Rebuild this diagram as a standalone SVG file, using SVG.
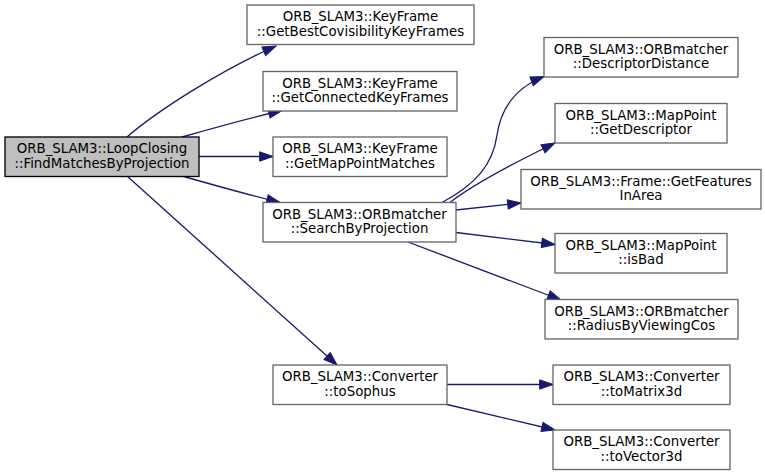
<svg xmlns="http://www.w3.org/2000/svg" width="765" height="476" viewBox="0 0 765 476">
<style>
.n rect{fill:#ffffff;stroke:#666666;stroke-width:1.33}
.m rect{fill:#bfbfbf;stroke:#000000;stroke-width:1.33}
text{font-family:"DejaVu Sans",sans-serif;font-size:13.33px;text-anchor:middle;fill:#000000}
.e path{fill:none;stroke:#191970;stroke-width:1.33;marker-end:url(#ah)}
</style>
<defs>
<marker id="ah" markerUnits="userSpaceOnUse" markerWidth="14" markerHeight="10" refX="13.33" refY="4.67" orient="auto" overflow="visible">
<path d="M0,0 L13.33,4.67 L0,9.33 z" fill="#191970" stroke="#191970" stroke-width="1"/>
</marker>
</defs>
<rect width="765" height="476" fill="#ffffff"/>
<g id="edges" class="e">
<path d="M127,137 C158,110 225,68 276,46"/>
<path d="M182,137 C210,129 245,119 282,110.5"/>
<path d="M199,156.5 L273,156.5"/>
<path d="M182,176 C210,184 245,194 280,202.5"/>
<path d="M127,176 L337,365"/>
<path d="M442,202.5 C475,185 493,165 497,135 C501,108 515,88 544,76.5"/>
<path d="M450,202.5 C475,183 520,160 555,143"/>
<path d="M456,210 L521,203"/>
<path d="M456,232.5 L555,244.5"/>
<path d="M408,242 L561,300"/>
<path d="M447,384.5 L553,384.5"/>
<path d="M447,404.5 L555,430"/>
</g>
<g id="node_main" class="m"><rect x="5" y="137" width="194" height="39.5"/><text x="102" y="153">ORB_SLAM3::LoopClosing</text><text x="102" y="167.7">::FindMatchesByProjection</text></g>
<g id="node_bestcov" class="n"><rect x="247" y="5" width="227" height="39.5"/><text x="360.5" y="21">ORB_SLAM3::KeyFrame</text><text x="360.5" y="35.7">::GetBestCovisibilityKeyFrames</text></g>
<g id="node_connected" class="n"><rect x="263" y="71.5" width="194" height="39.5"/><text x="360" y="87.5">ORB_SLAM3::KeyFrame</text><text x="360" y="102.2">::GetConnectedKeyFrames</text></g>
<g id="node_mpmatches" class="n"><rect x="273" y="137" width="174" height="39.5"/><text x="360" y="153">ORB_SLAM3::KeyFrame</text><text x="360" y="167.7">::GetMapPointMatches</text></g>
<g id="node_sbp" class="n"><rect x="263" y="202.5" width="193" height="39.5"/><text x="359.5" y="218.5">ORB_SLAM3::ORBmatcher</text><text x="359.5" y="233.2">::SearchByProjection</text></g>
<g id="node_tosophus" class="n"><rect x="273" y="365" width="174" height="39.5"/><text x="360" y="381">ORB_SLAM3::Converter</text><text x="360" y="395.7">::toSophus</text></g>
<g id="node_descdist" class="n"><rect x="544" y="37.5" width="194" height="39.5"/><text x="641" y="53.5">ORB_SLAM3::ORBmatcher</text><text x="641" y="68.2">::DescriptorDistance</text></g>
<g id="node_getdesc" class="n"><rect x="555" y="103.5" width="172" height="39.5"/><text x="641" y="119.5">ORB_SLAM3::MapPoint</text><text x="641" y="134.2">::GetDescriptor</text></g>
<g id="node_features" class="n"><rect x="521" y="169.5" width="240" height="39.5"/><text x="641" y="185.5">ORB_SLAM3::Frame::GetFeatures</text><text x="641" y="200.2">InArea</text></g>
<g id="node_isbad" class="n"><rect x="555" y="233.5" width="172" height="39.5"/><text x="641" y="249.5">ORB_SLAM3::MapPoint</text><text x="641" y="264.2">::isBad</text></g>
<g id="node_radius" class="n"><rect x="545" y="299.5" width="193" height="39.5"/><text x="641.5" y="315.5">ORB_SLAM3::ORBmatcher</text><text x="641.5" y="330.2">::RadiusByViewingCos</text></g>
<g id="node_tomatrix" class="n"><rect x="553" y="365" width="177" height="39.5"/><text x="641.5" y="381">ORB_SLAM3::Converter</text><text x="641.5" y="395.7">::toMatrix3d</text></g>
<g id="node_tovector" class="n"><rect x="553" y="430" width="177" height="39.5"/><text x="641.5" y="446">ORB_SLAM3::Converter</text><text x="641.5" y="460.7">::toVector3d</text></g>
</svg>
